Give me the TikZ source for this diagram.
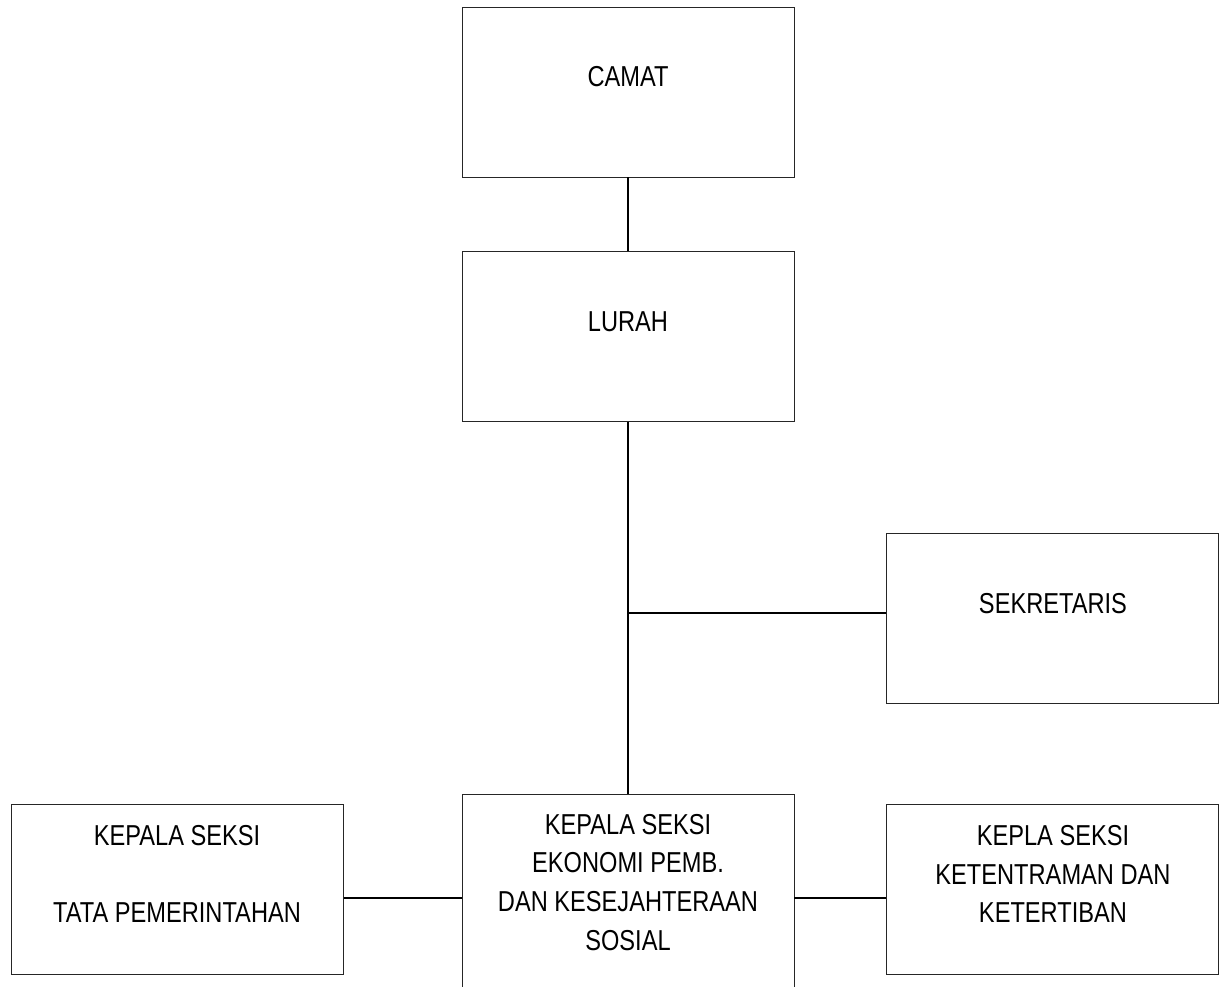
\documentclass[tikz,border=0pt]{standalone}
\usepackage{fontspec}
\setmainfont{Liberation Sans}[FakeStretch=0.82]
\usetikzlibrary{positioning}
\newcommand{\isikotak}[1]{\raisebox{0.27cm}[\height][\depth]{\begin{tabular}{@{}c@{}}#1\end{tabular}}}

\begin{document}
\begin{tikzpicture}[node distance=1.48cm,
  kotak/.style={draw=black!85,line width=0.55pt,minimum width=6.64cm,minimum height=3.4cm,inner sep=0pt,font=\fontsize{16.4}{22}\selectfont},
  garis/.style={line width=1.1pt}]
\path[use as bounding box,clip] (0,0) rectangle (24.38,-19.74);
\node[kotak] (camat) at (12.56,-1.84) {\isikotak{CAMAT}};
\node[kotak,below=of camat] (lurah) {\isikotak{LURAH}};
\node[kotak,below right=2.22cm and 1.84cm of lurah] (sekretaris) {\isikotak{SEKRETARIS}};
\node[kotak,minimum height=4.12cm,below=7.44cm of lurah] (ekbang) {\isikotak{KEPALA SEKSI\\EKONOMI PEMB.\\DAN KESEJAHTERAAN\\SOSIAL}};
\node[kotak,below left=0.2cm and 2.36cm of ekbang.north west] (pemerintahan) {\isikotak{KEPALA SEKSI\\ \\TATA PEMERINTAHAN}};
\node[kotak,below right=0.2cm and 1.84cm of ekbang.north east] (trantib) {\isikotak{KEPLA SEKSI\\KETENTRAMAN DAN\\KETERTIBAN}};
\coordinate (cabang) at ([yshift=0.12cm]sekretaris.west);
\draw[garis] (camat) -- (lurah);
\draw[garis] (lurah) -- (ekbang);
\draw[garis] (cabang) -- (cabang -| lurah.south);
\draw[garis] (pemerintahan.east |- ekbang.west) -- (ekbang.west);
\draw[garis] (ekbang.east) -- (ekbang.east -| trantib.west);
\end{tikzpicture}
\end{document}
